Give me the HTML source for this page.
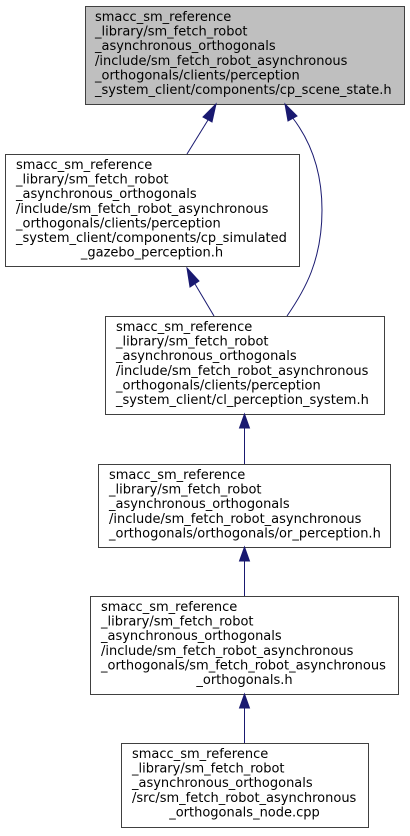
<!DOCTYPE html>
<html><head><meta charset="utf-8"><style>
html,body{margin:0;padding:0;background:#fff;width:410px;height:836px;overflow:hidden}
svg text{font-family:"DejaVu Sans","Liberation Sans",sans-serif;font-size:13px;fill:#000}
</style></head><body>
<svg width="410" height="836" viewBox="0 0 410 836" xmlns="http://www.w3.org/2000/svg">
<g stroke="#404040" stroke-width="1">
<rect x="85.5" y="6.5" width="319" height="98" fill="#bfbfbf"/>
<rect x="5.5" y="154.5" width="294" height="112" fill="#fff"/>
<rect x="105.5" y="316.5" width="279" height="98" fill="#fff"/>
<rect x="98.5" y="464.5" width="292" height="83" fill="#fff"/>
<rect x="90.5" y="596.5" width="308" height="98" fill="#fff"/>
<rect x="121.5" y="743.5" width="247" height="84" fill="#fff"/>
</g>
<g fill="none" stroke="#191970" stroke-width="1">
<path d="M187,154 L208,120"/>
<path d="M287,316 C305,290 322,260 322,210 C322,170 310,140 292,117"/>
<path d="M214,316 L195,284"/>
<path d="M244.5,464 L244.5,428"/>
<path d="M244.5,596 L244.5,561"/>
<path d="M244.5,743 L244.5,708"/>
</g>
<g fill="#191970" stroke="#191970">
<polygon points="216,104 212,122 203,117"/>
<polygon points="285,104 297,116 288,121"/>
<polygon points="187,268 199,281 190,287"/>
<polygon points="244.5,414 249.5,428 239.5,428"/>
<polygon points="244.5,547 249.5,561 239.5,561"/>
<polygon points="244.5,694 249.5,708 239.5,708"/>
</g>
<text x="95" y="21">smacc_sm_reference</text>
<text x="95" y="35.6">_library/sm_fetch_robot</text>
<text x="95" y="50.2">_asynchronous_orthogonals</text>
<text x="95" y="64.8">/include/sm_fetch_robot_asynchronous</text>
<text x="95" y="79.4">_orthogonals/clients/perception</text>
<text x="95" y="94">_system_client/components/cp_scene_state.h</text>

<text x="16" y="169">smacc_sm_reference</text>
<text x="16" y="183.6">_library/sm_fetch_robot</text>
<text x="16" y="198.2">_asynchronous_orthogonals</text>
<text x="16" y="212.8">/include/sm_fetch_robot_asynchronous</text>
<text x="16" y="227.4">_orthogonals/clients/perception</text>
<text x="16" y="242">_system_client/components/cp_simulated</text>
<text x="152" y="256.6" text-anchor="middle">_gazebo_perception.h</text>

<text x="116" y="331">smacc_sm_reference</text>
<text x="116" y="345.6">_library/sm_fetch_robot</text>
<text x="116" y="360.2">_asynchronous_orthogonals</text>
<text x="116" y="374.8">/include/sm_fetch_robot_asynchronous</text>
<text x="116" y="389.4">_orthogonals/clients/perception</text>
<text x="116" y="404">_system_client/cl_perception_system.h</text>

<text x="109" y="479">smacc_sm_reference</text>
<text x="109" y="493.6">_library/sm_fetch_robot</text>
<text x="109" y="508.2">_asynchronous_orthogonals</text>
<text x="109" y="522.8">/include/sm_fetch_robot_asynchronous</text>
<text x="109" y="537.4">_orthogonals/orthogonals/or_perception.h</text>

<text x="101" y="611">smacc_sm_reference</text>
<text x="101" y="625.6">_library/sm_fetch_robot</text>
<text x="101" y="640.2">_asynchronous_orthogonals</text>
<text x="101" y="654.8">/include/sm_fetch_robot_asynchronous</text>
<text x="101" y="669.4">_orthogonals/sm_fetch_robot_asynchronous</text>
<text x="244.5" y="684" text-anchor="middle">_orthogonals.h</text>

<text x="132" y="758">smacc_sm_reference</text>
<text x="132" y="772.6">_library/sm_fetch_robot</text>
<text x="132" y="787.2">_asynchronous_orthogonals</text>
<text x="132" y="801.8">/src/sm_fetch_robot_asynchronous</text>
<text x="244.5" y="816.4" text-anchor="middle">_orthogonals_node.cpp</text>
</svg>
</body></html>
